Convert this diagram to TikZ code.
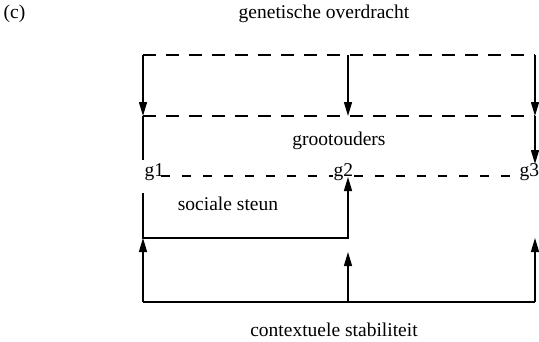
\documentclass[tikz,border=0pt]{standalone}
\usepackage{fontspec}
\setmainfont{Liberation Serif}
\usetikzlibrary{arrows.meta}
\begin{document}
\begin{tikzpicture}[x=1pt,y=-1pt, line width=1.4pt,
  lbl/.style={font=\fontsize{19.5}{22}\selectfont, inner sep=0pt, anchor=base},
  arr/.style={-{Triangle[length=14pt,width=8pt]}},
  dsh/.style={dash pattern=on 13pt off 10pt},
  gdsh/.style={dash pattern=on 9pt off 12pt}]
\useasboundingbox (0,0) rectangle (539,341);
% coordinates
\coordinate (tl) at (143,55);
\coordinate (tm) at (348,55);
\coordinate (tr) at (535,55);
\coordinate (sl) at (143,116);
\coordinate (sm) at (348,116);
\coordinate (sr) at (535,116);
\coordinate (g3in) at (535,164);
\coordinate (lg) at (143,160);
\coordinate (lu) at (143,193);
\coordinate (bl) at (143,238);
\coordinate (bm) at (348,238);
\coordinate (g2in) at (348,177);
\coordinate (botl) at (143,302);
\coordinate (botm) at (348,302);
\coordinate (botr) at (535,302);
\coordinate (midtip) at (348,252);
\coordinate (rtip) at (535,238);
% texts
\node[lbl] (c) at (14.5,18) {(c)};
\node[lbl] (gen) at (324,18) {genetische overdracht};
\node[lbl] (groot) at (339,145) {grootouders};
\node[lbl, anchor=base west] (g1) at (144,176) {g1};
\node[lbl, anchor=base west] (g2) at (333,176) {g2};
\node[lbl, anchor=base west] (g3) at (519,176) {g3};
\node[lbl] (soc) at (228,210) {sociale steun};
\node[lbl] (ctx) at (334,336) {contextuele stabiliteit};
% genetic transmission (dashed)
\draw[dsh] (tl) -- (tr);
\draw[dsh] (sl) -- (sr);
\draw[arr] (tl) -- (sl);
\draw[arr] (tm) -- (sm);
\draw[arr] (tr) -- (sr);
\draw[arr] (sr) -- (g3in);
\draw (sl) -- (lg);
% generation line
\draw[gdsh] (g1.base east) ++(-4pt,0) -- (g2.base west);
\draw[gdsh] (g2.base east) -- (g3.base west);
% social support
\draw[arr] (lu) -- (bl) -- (bm) -- (g2in);
% contextual stability
\draw (botl) -- (botr);
\draw[arr] (botl) -- (bl);
\draw[arr] (botm) -- (midtip);
\draw[arr] (botr) -- (rtip);
\end{tikzpicture}
\end{document}
